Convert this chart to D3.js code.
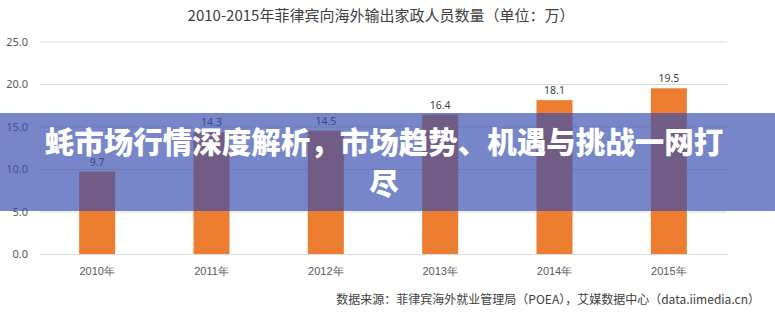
<!DOCTYPE html>
<html>
<head>
<meta charset="utf-8">
<script src="https://cdn.jsdelivr.net/npm/d3@7"></script>
<style>
  html, body { margin: 0; padding: 0; background: #ffffff; }
  svg { display: block; font-family: "Noto Sans CJK SC", "Noto Sans", sans-serif; }
</style>
</head>
<body>
<svg id="chart" width="775" height="325"></svg>
<script>
// 菲律宾向海外输出家政人员数量（万）
const years = ["2010年", "2011年", "2012年", "2013年", "2014年", "2015年"];
const workers = [9.7, 14.3, 14.5, 16.4, 18.1, 19.5];
const yTicks = [0, 5, 10, 15, 20, 25];

const titleText = "2010-2015年菲律宾向海外输出家政人员数量（单位：万）";
const sourceText = "数据来源：菲律宾海外就业管理局（POEA），艾媒数据中心（data.iimedia.cn）";
const bannerLines = ["蚝市场行情深度解析，市场趋势、机遇与挑战一网打", "尽"];

const svg = d3.select("#chart");
const W = 775;

const x = d3.scaleBand()
  .domain(years)
  .range([40, 726])
  .paddingInner(0.685)
  .paddingOuter(0.3425);

const y = d3.scaleLinear()
  .domain([0, 25])
  .range([254, 41.5]);

// title
svg.append("text")
  .attr("x", 381)
  .attr("y", 21)
  .attr("text-anchor", "middle")
  .attr("font-size", 15)
  .attr("fill", "#404040")
  .text(titleText);

// horizontal gridlines + y labels
const yAxis = d3.axisLeft(y)
  .tickValues(yTicks)
  .tickSize(-(727 - 40))
  .tickPadding(12)
  .tickFormat(d3.format(".1f"));

const gy = svg.append("g")
  .attr("transform", "translate(40,0)")
  .call(yAxis);
gy.select(".domain").remove();
gy.selectAll(".tick line").attr("stroke", "#dcdcdc").attr("stroke-width", 1);
gy.selectAll(".tick text")
  .attr("fill", "#595959")
  .attr("font-size", 11)
  .attr("font-family", "\"Noto Sans\", sans-serif");

// bars
svg.append("g")
  .selectAll("rect")
  .data(workers)
  .join("rect")
  .attr("x", (d, i) => x(years[i]))
  .attr("y", d => y(d))
  .attr("width", x.bandwidth())
  .attr("height", d => y(0) - y(d))
  .attr("fill", "#ed7d31");

// value labels
svg.append("g")
  .selectAll("text")
  .data(workers)
  .join("text")
  .attr("x", (d, i) => x(years[i]) + x.bandwidth() / 2)
  .attr("y", d => y(d) - 6)
  .attr("text-anchor", "middle")
  .attr("font-size", 10.5)
  .attr("font-family", "\"Noto Sans\", sans-serif")
  .attr("fill", "#404040")
  .text(d => d3.format(".1f")(d));

// x axis labels
const xAxis = d3.axisBottom(x).tickSize(0).tickPadding(13);
const gx = svg.append("g")
  .attr("transform", `translate(0,${y(0)})`)
  .call(xAxis);
gx.select(".domain").remove();
gx.selectAll(".tick text")
  .attr("fill", "#595959")
  .attr("font-size", 11);

// source note
svg.append("text")
  .attr("x", 760)
  .attr("y", 304)
  .attr("text-anchor", "end")
  .attr("font-size", 12)
  .attr("fill", "#404040")
  .text(sourceText);

// translucent headline banner
svg.append("rect")
  .attr("x", 0)
  .attr("y", 113)
  .attr("width", W)
  .attr("height", 98)
  .attr("fill", "rgb(55,77,176)")
  .attr("fill-opacity", 0.68);

svg.append("g")
  .selectAll("text")
  .data(bannerLines)
  .join("text")
  .attr("x", 384)
  .attr("y", (d, i) => 153 + i * 41)
  .attr("text-anchor", "middle")
  .attr("font-size", 29.5)
  .attr("font-weight", 900)
  .attr("fill", "#ffffff")
  .text(d => d);
</script>
</body>
</html>
